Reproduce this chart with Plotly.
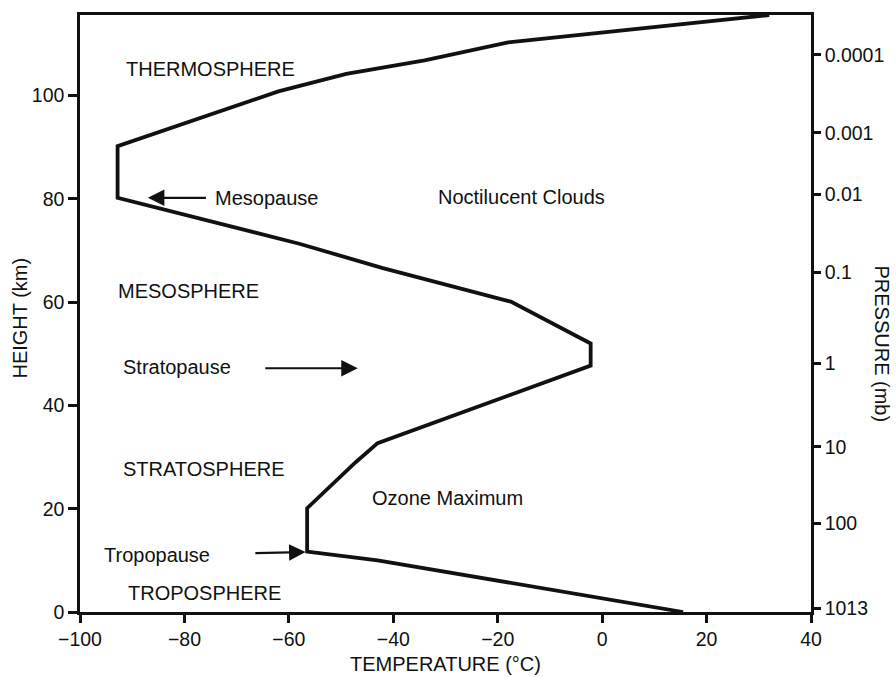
import plotly.graph_objects as go

# Temperature profile of the atmosphere
temperature_c = [15.5, -43.0, -56.5, -56.5, -47.2, -43.0, -2.2, -2.2, -17.5, -42.0, -58.0,
                 -92.8, -92.8, -62.0, -49.0, -34.0, -18.0, 8.0, 32.0]
height_km = [0.0, 10.0, 11.7, 20.1, 29.0, 32.7, 47.7, 52.0, 60.1, 66.6, 71.3,
             80.2, 90.2, 100.8, 104.2, 106.8, 110.3, 113.1, 115.6]

# Left axis (height) ticks
height_ticks = [0, 20, 40, 60, 80, 100]
# Bottom axis (temperature) ticks
temp_ticks = [-100, -80, -60, -40, -20, 0, 20, 40]
# Right axis: pressure labels and the heights at which they sit
pressure_labels = ["1013", "100", "10", "1", "0.1", "0.01", "0.001", "0.0001"]
pressure_heights = [0.7, 17.2, 32.0, 48.1, 65.8, 80.9, 92.8, 107.9]

# Region labels (text, temperature, height)
label_texts = ["THERMOSPHERE", "MESOSPHERE", "STRATOSPHERE", "TROPOSPHERE",
               "Mesopause", "Noctilucent Clouds", "Stratopause", "Ozone Maximum", "Tropopause"]
label_x = [-75.0, -79.2, -76.2, -76.2, -64.2, -15.5, -81.4, -29.6, -85.3]
label_y = [105.1, 62.2, 27.6, 3.7, 80.2, 80.4, 47.4, 22.0, 11.05]

# Arrows (tail -> head)
arrow_tail_x = [-75.6, -64.8, -66.7]
arrow_tail_y = [80.2, 47.2, 11.4]
arrow_head_x = [-87.0, -46.8, -56.8]
arrow_head_y = [80.2, 47.2, 11.6]

FONT = "Arial, Liberation Sans, sans-serif"
INK = "#111111"

fig = go.Figure()
fig.add_trace(go.Scatter(
    x=temperature_c, y=height_km, mode="lines",
    line=dict(color=INK, width=3.8), hoverinfo="skip", showlegend=False))
fig.add_trace(go.Scatter(
    x=[40] * len(pressure_heights), y=pressure_heights, yaxis="y2", mode="markers",
    marker=dict(opacity=0), hoverinfo="skip", showlegend=False))

annotations = []
for t, x, y in zip(label_texts, label_x, label_y):
    annotations.append(dict(x=x, y=y, xref="x", yref="y", text=t, showarrow=False,
                            font=dict(family=FONT, size=20, color=INK),
                            xanchor="center", yanchor="middle"))
for tx, ty, hx, hy in zip(arrow_tail_x, arrow_tail_y, arrow_head_x, arrow_head_y):
    annotations.append(dict(x=hx, y=hy, ax=tx, ay=ty, xref="x", yref="y",
                            axref="x", ayref="y", text="", showarrow=True,
                            arrowhead=2, arrowsize=1.5, arrowwidth=2.2, arrowcolor=INK))

# Axis titles
annotations.append(dict(x=0.5, y=-0.0863, xref="paper", yref="paper", text="TEMPERATURE (°C)",
                        showarrow=False, font=dict(family=FONT, size=20, color=INK),
                        xanchor="center", yanchor="middle"))
annotations.append(dict(x=-0.0825, y=0.4927, xref="paper", yref="paper", text="HEIGHT (km)",
                        showarrow=False, textangle=-90, font=dict(family=FONT, size=20, color=INK),
                        xanchor="center", yanchor="middle"))
annotations.append(dict(x=1.0975, y=0.4494, xref="paper", yref="paper", text="PRESSURE (mb)",
                        showarrow=False, textangle=90, font=dict(family=FONT, size=20, color=INK),
                        xanchor="center", yanchor="middle"))

axis_common = dict(showline=True, linecolor=INK, linewidth=2.5, ticks="outside",
                   tickcolor=INK, tickwidth=2.5, showgrid=False, zeroline=False,
                   tickfont=dict(family=FONT, size=19.5, color=INK))

fig.update_layout(
    width=896, height=677,
    margin=dict(l=80, r=83, t=13, b=65),
    paper_bgcolor="white", plot_bgcolor="white",
    font=dict(family=FONT, color=INK),
    xaxis=dict(range=[-100, 40], tickmode="array", tickvals=temp_ticks,
               mirror=True, ticklen=8, **axis_common),
    yaxis=dict(range=[0, 115.6], tickmode="array", tickvals=height_ticks,
               ticklen=9, **axis_common),
    yaxis2=dict(range=[0, 115.6], overlaying="y", side="right", tickmode="array",
                tickvals=pressure_heights, ticktext=pressure_labels, ticklen=7, **axis_common),
    annotations=annotations,
    showlegend=False,
)

fig.write_html("out.html", config={"displayModeBar": False},
               post_script="document.body.style.margin='0';document.body.style.overflow='hidden';")
